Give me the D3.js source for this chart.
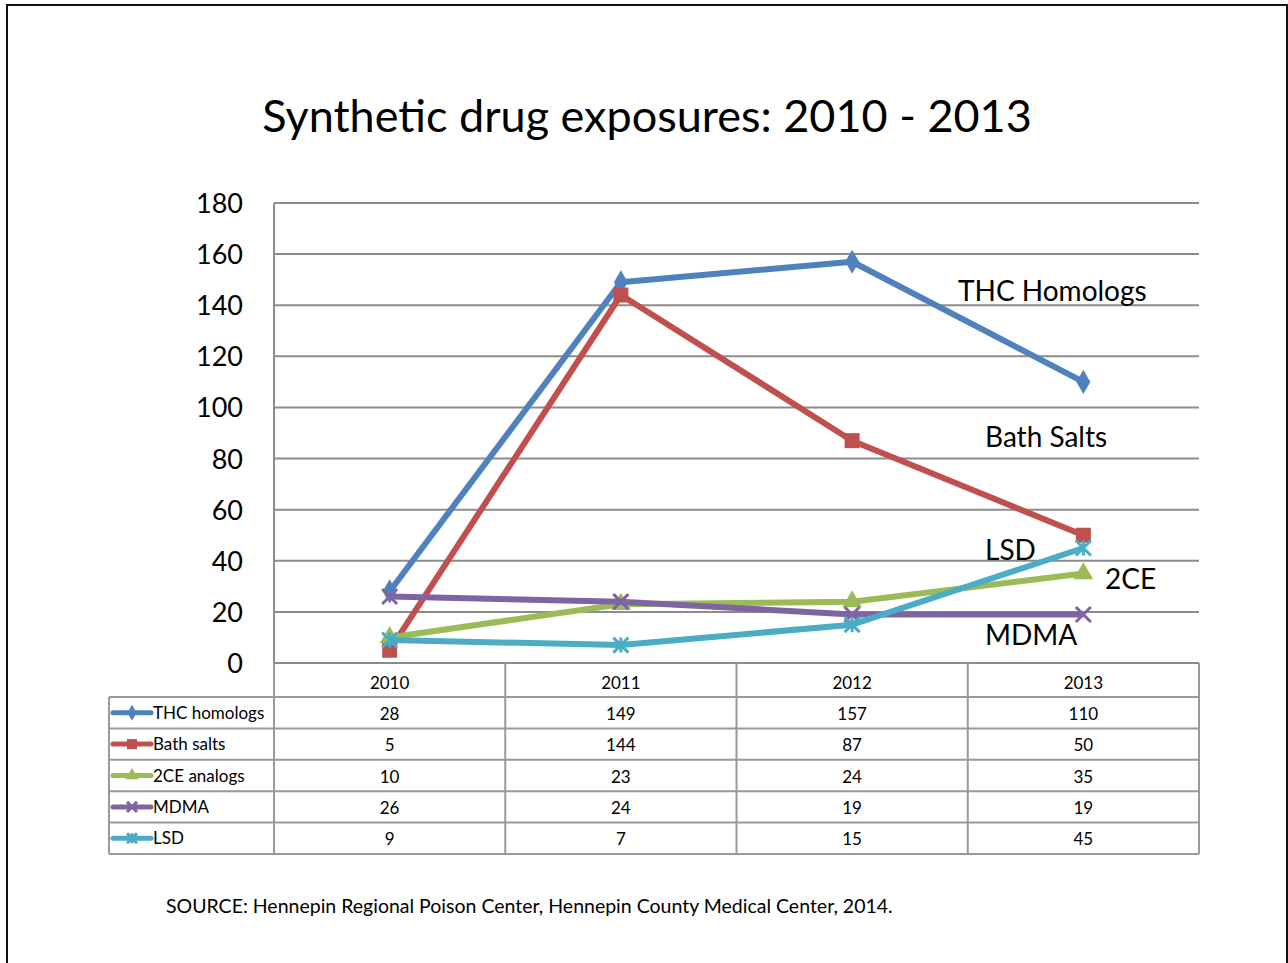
<!DOCTYPE html>
<html>
<head>
<meta charset="utf-8">
<script src="https://cdn.jsdelivr.net/npm/d3@7"></script>
<style>
  body { margin: 0; background: #fff; }
  svg { display: block; font-family: Lato, "Open Sans", sans-serif; }
</style>
</head>
<body>
<svg width="1288" height="963"></svg>
<script>
const years = ["2010", "2011", "2012", "2013"]
const seriesNames = ["THC homologs", "Bath salts", "2CE analogs", "MDMA", "LSD"]
const thc = [28, 149, 157, 110]
const bathSalts = [5, 144, 87, 50]
const twoCE = [10, 23, 24, 35]
const mdma = [26, 24, 19, 19]
const lsd = [9, 7, 15, 45]
const yTicks = [0, 20, 40, 60, 80, 100, 120, 140, 160, 180]
const colors = ["#4f81bd", "#c0504d", "#9bbb59", "#8064a2", "#4bacc6"]
const markers = ["diamond", "square", "triangle", "x", "star"]
// labels placed next to the lines, anchored at a value
const lineLabels = [
  { text: "THC Homologs", x: 958, v: 141.5 },
  { text: "Bath Salts", x: 985, v: 84.5 },
  { text: "LSD", x: 985, v: 40.5 },
  { text: "2CE", x: 1105, v: 29 },
  { text: "MDMA", x: 985, v: 7 }
]

const allValues = [thc, bathSalts, twoCE, mdma, lsd]
const series = seriesNames.map((name, i) => ({ name, values: allValues[i], color: colors[i], marker: markers[i] }))

const svg = d3.select("svg")

// outer frame
svg.append("rect")
  .attr("x", 7).attr("y", 5).attr("width", 1280).attr("height", 970)
  .attr("fill", "none").attr("stroke", "#111").attr("stroke-width", 2)

svg.append("text")
  .attr("x", 647).attr("y", 132)
  .attr("text-anchor", "middle")
  .attr("font-size", 45)
  .text("Synthetic drug exposures: 2010 - 2013")

const plotLeft = 274, plotRight = 1199, plotTop = 203, plotBottom = 663

const x = d3.scaleBand().domain(years).range([plotLeft, plotRight])
const y = d3.scaleLinear().domain([0, 180]).range([plotBottom, plotTop])
const cx = d => x(d) + x.bandwidth() / 2

// gridlines
svg.append("g").selectAll("line")
  .data(yTicks)
  .enter().append("line")
  .attr("x1", plotLeft).attr("x2", plotRight)
  .attr("y1", d => y(d)).attr("y2", d => y(d))
  .attr("stroke", "#8c8c8c").attr("stroke-width", 2)

svg.append("line")
  .attr("x1", plotLeft).attr("x2", plotLeft).attr("y1", plotTop).attr("y2", plotBottom)
  .attr("stroke", "#8c8c8c").attr("stroke-width", 2)

// y axis labels
svg.append("g").selectAll("text")
  .data(yTicks)
  .enter().append("text")
  .attr("x", 243).attr("y", d => y(d) + 10)
  .attr("text-anchor", "end")
  .attr("font-size", 27)
  .text(d => d)

// data table
const rowTop = 663, headH = 34, rowH = 31.4
const tableLeft = 109
const rowY = i => rowTop + headH + i * rowH
const tg = svg.append("g")
const gridStroke = "#999"

tg.selectAll(".hline")
  .data(d3.range(series.length + 1))
  .enter().append("line")
  .attr("x1", tableLeft).attr("x2", plotRight)
  .attr("y1", d => rowY(d)).attr("y2", d => rowY(d))
  .attr("stroke", gridStroke).attr("stroke-width", 2)

const colEdges = years.map(d => x(d)).concat([plotRight])
tg.selectAll(".vline")
  .data(colEdges)
  .enter().append("line")
  .attr("x1", d => d).attr("x2", d => d)
  .attr("y1", rowTop).attr("y2", rowY(series.length))
  .attr("stroke", gridStroke).attr("stroke-width", 2)

tg.append("line")
  .attr("x1", tableLeft).attr("x2", tableLeft)
  .attr("y1", rowY(0)).attr("y2", rowY(series.length))
  .attr("stroke", gridStroke).attr("stroke-width", 2)

tg.selectAll(".yr")
  .data(years)
  .enter().append("text")
  .attr("x", d => cx(d)).attr("y", rowTop + 26)
  .attr("text-anchor", "middle").attr("font-size", 17)
  .text(d => d)

function markerPath(type, s) {
  if (type === "diamond") return d3.symbol(d3.symbolDiamond, s * s * 0.75)()
  if (type === "square") return d3.symbol(d3.symbolSquare, s * s)()
  if (type === "triangle") return d3.symbol(d3.symbolTriangle, s * s * 0.75)()
  return null
}

function drawMarker(g, type, color, px, py, s) {
  if (type === "x" || type === "star") {
    const h = s / 2
    g.append("path")
      .attr("d", `M${px - h},${py - h}L${px + h},${py + h}M${px - h},${py + h}L${px + h},${py - h}` +
        (type === "star" ? `M${px},${py - h}L${px},${py + h}` : ""))
      .attr("stroke", color).attr("stroke-width", 3).attr("fill", "none")
  } else {
    g.append("path")
      .attr("d", markerPath(type, s))
      .attr("transform", `translate(${px},${py})`)
      .attr("fill", color)
  }
}

series.forEach((s, i) => {
  const ry = rowY(i)
  const g = tg.append("g")
  g.append("line")
    .attr("x1", 113).attr("x2", 151)
    .attr("y1", ry + rowH / 2).attr("y2", ry + rowH / 2)
    .attr("stroke", s.color).attr("stroke-width", 5).attr("stroke-linecap", "round")
  drawMarker(g, s.marker, s.color, 132, ry + rowH / 2, 10)
  g.append("text")
    .attr("x", 153).attr("y", ry + rowH / 2 + 6)
    .attr("font-size", 17)
    .text(s.name)
  g.selectAll(".val")
    .data(s.values)
    .enter().append("text")
    .attr("x", (d, j) => cx(years[j])).attr("y", ry + rowH / 2 + 7)
    .attr("text-anchor", "middle").attr("font-size", 17)
    .text(d => d)
})

// lines
const line = d3.line().x((d, j) => cx(years[j])).y(d => y(d))
const lg = svg.append("g")
series.forEach(s => {
  lg.append("path")
    .datum(s.values)
    .attr("d", line)
    .attr("fill", "none")
    .attr("stroke", s.color).attr("stroke-width", 6)
    .attr("stroke-linejoin", "round")
  s.values.forEach((v, j) => drawMarker(lg, s.marker, s.color, cx(years[j]), y(v), 15))
})

svg.append("g").selectAll("text")
  .data(lineLabels)
  .enter().append("text")
  .attr("x", d => d.x).attr("y", d => y(d.v))
  .attr("font-size", 28)
  .text(d => d.text)

svg.append("text")
  .attr("x", 166).attr("y", 913)
  .attr("font-size", 19.5)
  .text("SOURCE: Hennepin Regional Poison Center, Hennepin County Medical Center, 2014.")
</script>
</body>
</html>
